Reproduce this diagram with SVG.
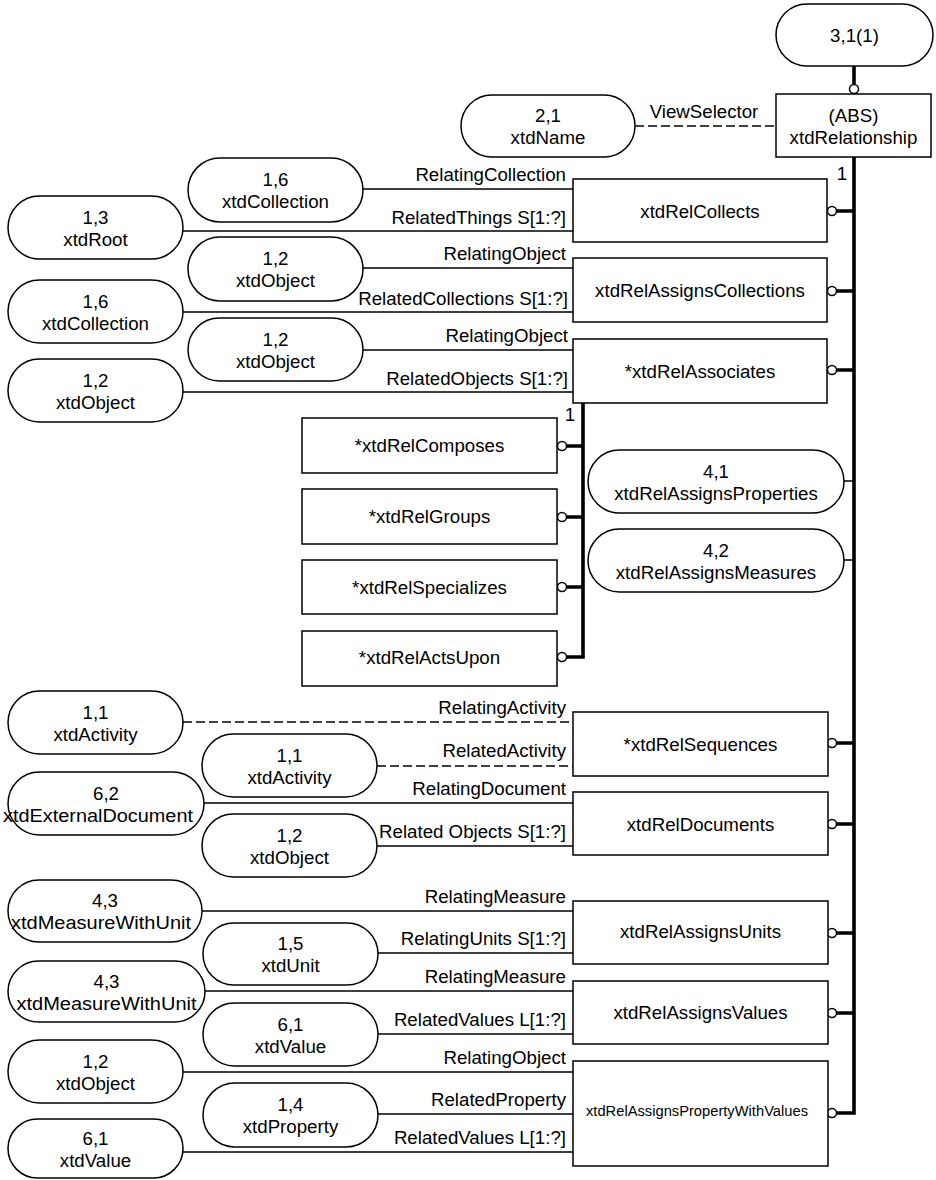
<svg xmlns="http://www.w3.org/2000/svg" width="936" height="1180" viewBox="0 0 936 1180">
<style>
text{font-family:"Liberation Sans",Arial,sans-serif;font-size:18.7px;fill:#000}
.c{text-anchor:middle}
.l{text-anchor:end}
.sh{fill:#fff;stroke:#000;stroke-width:1.5}
.ln{fill:none;stroke:#000;stroke-width:1.5}
.d{fill:none;stroke:#000;stroke-width:1.5;stroke-dasharray:9 4}
.tk{fill:none;stroke:#000;stroke-width:3.6}
.o{fill:#fff;stroke:#000;stroke-width:1.5}
</style>
<rect width="936" height="1180" fill="#fff"/>
<g id="connectors">
<path class="tk" d="M854 66V84"/>
<path class="tk" d="M854 157V1113H836"/>
<path class="tk" d="M836 211H854M836 291H854M836 370H854M836 743H854M836 824H854M836 933H854M836 1013H854"/>
<path class="ln" d="M844 481H854M844 560H854"/>
<path class="tk" d="M583 403V657H566"/>
<path class="tk" d="M566 446H583M566 517H583M566 587H583"/>
<circle class="o" cx="854" cy="89" r="4.5"/>
<circle class="o" cx="832" cy="211" r="4.5"/>
<circle class="o" cx="832" cy="291" r="4.5"/>
<circle class="o" cx="832" cy="370" r="4.5"/>
<circle class="o" cx="832" cy="743" r="4.5"/>
<circle class="o" cx="832" cy="824" r="4.5"/>
<circle class="o" cx="832" cy="933" r="4.5"/>
<circle class="o" cx="832" cy="1013" r="4.5"/>
<circle class="o" cx="832" cy="1113" r="4.5"/>
<circle class="o" cx="562" cy="446" r="4.5"/>
<circle class="o" cx="562" cy="517" r="4.5"/>
<circle class="o" cx="562" cy="587" r="4.5"/>
<circle class="o" cx="562" cy="657" r="4.5"/>
<text x="842" y="180" class="c">1</text>
<text x="570" y="421" class="c">1</text>
<path class="d" d="M635 126H776"/>
<text x="704" y="118" class="c">ViewSelector</text>
<path class="ln" d="M363 189H573M183 231H573M363 268H573M183 312H573M363 350H573M183 392H573"/>
<text x="566" y="181" class="l">RelatingCollection</text>
<text x="566" y="224" class="l">RelatedThings S[1:?]</text>
<text x="566" y="260" class="l">RelatingObject</text>
<text x="568" y="305" class="l">RelatedCollections S[1:?]</text>
<text x="568" y="342" class="l">RelatingObject</text>
<text x="568" y="385" class="l">RelatedObjects S[1:?]</text>
<path class="d" d="M183 722H573M377 766H573"/>
<path class="ln" d="M204 803H573M377 846H573M202 911H573M378 953H573M205 991H573M378 1034H573M183 1072H573M378 1114H573M183 1152H573"/>
<text x="566" y="714" class="l">RelatingActivity</text>
<text x="566" y="757" class="l">RelatedActivity</text>
<text x="566" y="795" class="l">RelatingDocument</text>
<text x="566" y="838" class="l">Related Objects S[1:?]</text>
<text x="566" y="903" class="l">RelatingMeasure</text>
<text x="566" y="945" class="l">RelatingUnits S[1:?]</text>
<text x="566" y="983" class="l">RelatingMeasure</text>
<text x="566" y="1026" class="l">RelatedValues L[1:?]</text>
<text x="566" y="1064" class="l">RelatingObject</text>
<text x="566" y="1106" class="l">RelatedProperty</text>
<text x="566" y="1144" class="l">RelatedValues L[1:?]</text>
</g>
<g id="n_3_1"><rect class="sh" x="776" y="4" width="157" height="62" rx="31"/><text x="854.5" y="42" class="c">3,1(1)</text></g>
<g id="xtdRelationship"><rect class="sh" x="776" y="94" width="155" height="63"/><text x="853.5" y="122" class="c">(ABS)</text><text x="853.5" y="144" class="c">xtdRelationship</text></g>
<g id="n_2_1"><rect class="sh" x="461" y="95" width="174" height="62" rx="31"/><text x="548" y="122" class="c">2,1</text><text x="548" y="144" class="c">xtdName</text></g>

<g id="xtdRelCollects"><rect class="sh" x="573" y="179" width="254" height="63"/><text x="700" y="218" class="c">xtdRelCollects</text></g>
<g id="xtdRelAssignsCollections"><rect class="sh" x="573" y="258" width="254" height="64"/><text x="700" y="297" class="c">xtdRelAssignsCollections</text></g>
<g id="xtdRelAssociates"><rect class="sh" x="573" y="339" width="254" height="64"/><text x="700" y="378" class="c">*xtdRelAssociates</text></g>

<g id="p_coll_a"><rect class="sh" x="188" y="158" width="175" height="64" rx="32"/><text x="275.5" y="186" class="c">1,6</text><text x="275.5" y="208" class="c">xtdCollection</text></g>
<g id="p_root"><rect class="sh" x="8" y="196" width="175" height="63" rx="31.5"/><text x="95.5" y="224" class="c">1,3</text><text x="95.5" y="246" class="c">xtdRoot</text></g>
<g id="p_obj_a"><rect class="sh" x="188" y="237" width="175" height="64" rx="32"/><text x="275.5" y="265" class="c">1,2</text><text x="275.5" y="287" class="c">xtdObject</text></g>
<g id="p_coll_b"><rect class="sh" x="8" y="280" width="175" height="63" rx="31.5"/><text x="95.5" y="308" class="c">1,6</text><text x="95.5" y="330" class="c">xtdCollection</text></g>
<g id="p_obj_b"><rect class="sh" x="188" y="318" width="175" height="63" rx="31.5"/><text x="275.5" y="346" class="c">1,2</text><text x="275.5" y="368" class="c">xtdObject</text></g>
<g id="p_obj_c"><rect class="sh" x="8" y="359" width="175" height="63" rx="31.5"/><text x="95.5" y="387" class="c">1,2</text><text x="95.5" y="409" class="c">xtdObject</text></g>

<g id="xtdRelComposes"><rect class="sh" x="302" y="418" width="255" height="55"/><text x="429.5" y="452" class="c">*xtdRelComposes</text></g>
<g id="xtdRelGroups"><rect class="sh" x="302" y="489" width="255" height="55"/><text x="429.5" y="523" class="c">*xtdRelGroups</text></g>
<g id="xtdRelSpecializes"><rect class="sh" x="302" y="560" width="255" height="54"/><text x="429.5" y="594" class="c">*xtdRelSpecializes</text></g>
<g id="xtdRelActsUpon"><rect class="sh" x="302" y="631" width="255" height="55"/><text x="429.5" y="664" class="c">*xtdRelActsUpon</text></g>

<g id="p_4_1"><rect class="sh" x="588" y="450" width="256" height="63" rx="31.5"/><text x="716" y="478" class="c">4,1</text><text x="716" y="500" class="c">xtdRelAssignsProperties</text></g>
<g id="p_4_2"><rect class="sh" x="588" y="529" width="256" height="63" rx="31.5"/><text x="716" y="557" class="c">4,2</text><text x="716" y="579" class="c">xtdRelAssignsMeasures</text></g>

<g id="xtdRelSequences"><rect class="sh" x="573" y="712" width="255" height="64"/><text x="700.5" y="751" class="c">*xtdRelSequences</text></g>
<g id="xtdRelDocuments"><rect class="sh" x="573" y="792" width="255" height="63"/><text x="700.5" y="831" class="c">xtdRelDocuments</text></g>
<g id="xtdRelAssignsUnits"><rect class="sh" x="573" y="901" width="255" height="63"/><text x="700.5" y="938" class="c">xtdRelAssignsUnits</text></g>
<g id="xtdRelAssignsValues"><rect class="sh" x="573" y="981" width="255" height="63"/><text x="700.5" y="1019" class="c">xtdRelAssignsValues</text></g>
<g id="xtdRelAssignsPropertyWithValues"><rect class="sh" x="573" y="1061" width="255" height="105"/><text x="697" y="1116" class="c" style="font-size:14px" textLength="222" lengthAdjust="spacingAndGlyphs">xtdRelAssignsPropertyWithValues</text></g>

<g id="p_act_a"><rect class="sh" x="8" y="691" width="175" height="63" rx="31.5"/><text x="95.5" y="719" class="c">1,1</text><text x="95.5" y="741" class="c">xtdActivity</text></g>
<g id="p_act_b"><rect class="sh" x="202" y="734" width="175" height="63" rx="31.5"/><text x="289.5" y="762" class="c">1,1</text><text x="289.5" y="784" class="c">xtdActivity</text></g>
<g id="p_extdoc"><rect class="sh" x="8" y="772" width="196" height="63" rx="31.5"/><text x="106" y="800" class="c">6,2</text><text x="98" y="822" class="c" textLength="190" lengthAdjust="spacingAndGlyphs">xtdExternalDocument</text></g>
<g id="p_obj_d"><rect class="sh" x="202" y="814" width="175" height="63" rx="31.5"/><text x="289.5" y="842" class="c">1,2</text><text x="289.5" y="864" class="c">xtdObject</text></g>
<g id="p_mwu_a"><rect class="sh" x="8" y="880" width="194" height="62" rx="31"/><text x="105" y="907" class="c">4,3</text><text x="101" y="929" class="c" textLength="180" lengthAdjust="spacingAndGlyphs">xtdMeasureWithUnit</text></g>
<g id="p_unit"><rect class="sh" x="203" y="923" width="175" height="62" rx="31"/><text x="290.5" y="950" class="c">1,5</text><text x="290.5" y="972" class="c">xtdUnit</text></g>
<g id="p_mwu_b"><rect class="sh" x="8" y="961" width="197" height="61" rx="30.5"/><text x="106.5" y="988" class="c">4,3</text><text x="106.5" y="1010" class="c" textLength="180" lengthAdjust="spacingAndGlyphs">xtdMeasureWithUnit</text></g>
<g id="p_val_a"><rect class="sh" x="203" y="1003" width="175" height="63" rx="31.5"/><text x="290.5" y="1031" class="c">6,1</text><text x="290.5" y="1053" class="c">xtdValue</text></g>
<g id="p_obj_e"><rect class="sh" x="8" y="1040" width="175" height="63" rx="31.5"/><text x="95.5" y="1068" class="c">1,2</text><text x="95.5" y="1090" class="c">xtdObject</text></g>
<g id="p_prop"><rect class="sh" x="203" y="1083" width="175" height="64" rx="32"/><text x="290.5" y="1111" class="c">1,4</text><text x="290.5" y="1133" class="c">xtdProperty</text></g>
<g id="p_val_b"><rect class="sh" x="8" y="1119" width="175" height="59" rx="29.5"/><text x="95.5" y="1145" class="c">6,1</text><text x="95.5" y="1167" class="c">xtdValue</text></g>
</svg>
